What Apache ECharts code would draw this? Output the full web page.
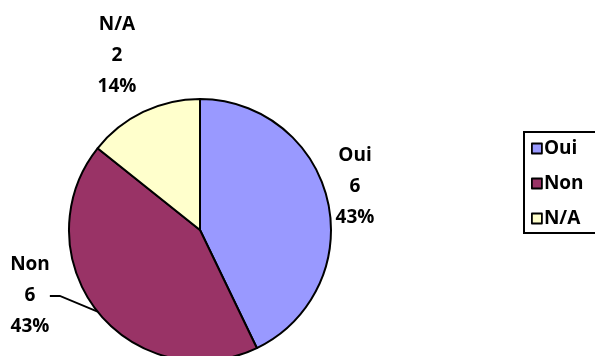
<!DOCTYPE html>
<html>
<head>
<meta charset="utf-8">
<script src="https://cdn.jsdelivr.net/npm/echarts@6/dist/echarts.min.js"></script>
<style>
  html, body { margin: 0; padding: 0; background: #fff; }
  #chart { width: 595px; height: 356px; }
</style>
</head>
<body>
<div id="chart"></div>
<script>
// Réponses au questionnaire
const categories = ['Oui', 'Non', 'N/A'];
const counts = [6, 6, 2];
const colors = ['#9999FF', '#993366', '#FFFFCC'];

// Label anchor points (pixels) for each slice's text block
const labelSpots = [
  { x: 355, y: 187 },
  { x: 30, y: 296 },
  { x: 117, y: 56 }
];

const FONT = 'Open Sans';

const chart = echarts.init(document.getElementById('chart'), null, { renderer: 'canvas' });

chart.setOption({
  animation: false,
  backgroundColor: '#ffffff',
  legend: {
    orient: 'vertical',
    left: 524,
    top: 132,
    padding: [7, 40, 5, 7],
    itemGap: 16,
    itemWidth: 10,
    itemHeight: 10,
    icon: 'rect',
    borderColor: '#000',
    borderWidth: 2,
    data: categories,
    itemStyle: { borderColor: '#000', borderWidth: 1.8 },
    textStyle: { fontFamily: FONT, fontWeight: 'bold', fontSize: 19, color: '#000', padding: [0, 0, 0, -3] }
  },
  series: [{
    type: 'pie',
    center: [200, 230],
    radius: 131,
    startAngle: 90,
    clockwise: true,
    percentPrecision: 0,
    data: categories.map((name, i) => ({
      name,
      value: counts[i],
      itemStyle: { color: colors[i] },
      labelLine: { show: name === 'Non' }
    })),
    itemStyle: { borderColor: '#000', borderWidth: 2 },
    label: {
      show: true,
      formatter: '{b}\n{c}\n{d}%',
      fontFamily: FONT,
      fontWeight: 'bold',
      fontSize: 19,
      lineHeight: 31,
      color: '#000',
      align: 'center'
    },
    labelLine: {
      show: false,
      length: 10,
      length2: 10,
      lineStyle: { color: '#000', width: 1.8 }
    },
    labelLayout: (p) => ({
      x: labelSpots[p.dataIndex].x,
      y: labelSpots[p.dataIndex].y,
      align: 'center',
      verticalAlign: 'middle'
    }),
    emphasis: { disabled: true }
  }]
});
</script>
</body>
</html>
